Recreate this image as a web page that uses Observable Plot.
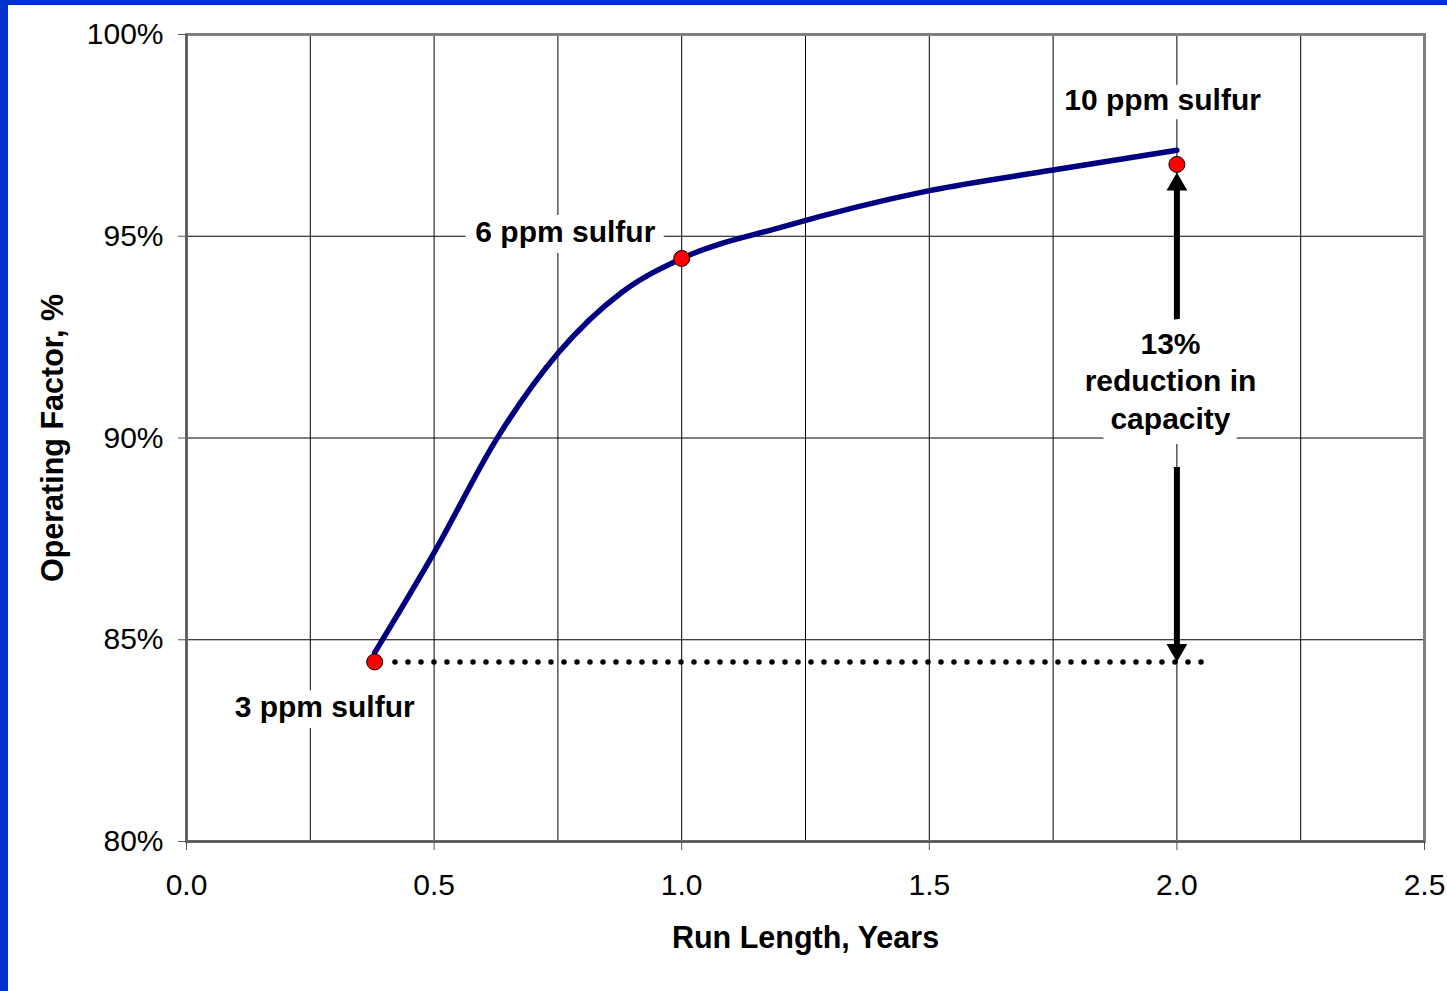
<!DOCTYPE html>
<html>
<head>
<meta charset="utf-8">
<script src="https://cdn.jsdelivr.net/npm/d3@7"></script>
<script src="https://cdn.jsdelivr.net/npm/@observablehq/plot@0.6"></script>
<style>
  html, body { margin: 0; padding: 0; background: #ffffff; }
  #wrap { position: relative; width: 1447px; height: 991px; overflow: hidden; }
  #chart { position: absolute; left: 0; top: 0; }
  .bar-left { position: absolute; left: 0; top: 0; width: 8px; height: 991px; background: #0033cc; }
  .bar-top { position: absolute; left: 0; top: 0; width: 1447px; height: 5px; background: #0033cc; }
</style>
</head>
<body>
<div id="wrap">
  <div id="chart"></div>
  <div class="bar-left"></div>
  <div class="bar-top"></div>
</div>
<script>
// Smoothed operating-factor curve (run length in years, operating factor in %)
const curveX = [0.38, 0.50, 0.628, 0.75, 0.88, 1.00, 1.20, 1.50, 1.75, 2.00];
const curveY = [84.68, 87.16, 90.01, 92.10, 93.62, 94.45, 95.22, 96.13, 96.64, 97.13];

// Red markers (sulfur cases)
const markerX = [0.38, 1.00, 2.00];
const markerY = [84.45, 94.45, 96.78];

// Labels
const labelText = ["3 ppm sulfur", "6 ppm sulfur", "10 ppm sulfur"];
const labelX = [0.279, 0.765, 1.971];
const labelY = [83.32, 95.09, 98.36];

// Dotted reference line
const refLevel = 84.45;
const refStart = 0.422;
const refEnd = 2.05;

// Arrow (13% reduction)
const arrowX = 2.0;
const shaftFrom = [92.86, 89.27];
const shaftTo = [96.2, 84.85];
const headTip = [96.58, 84.45];
const headDir = ["up", "down"];
const arrowText = "13%\nreduction in\ncapacity";
const arrowTextX = 1.987;
const arrowTextY = 91.45;

// Axes
const xTicks = [0, 0.5, 1.0, 1.5, 2.0, 2.5];
const xGrid = [0.25, 0.5, 0.75, 1.0, 1.25, 1.5, 1.75, 2.0, 2.25];
const yTicks = [80, 85, 90, 95, 100];
const yGrid = [85, 90, 95];
const xTitle = "Run Length, Years";
const yTitle = "Operating Factor, %";

const curve = curveX.map((x, i) => ({x, y: curveY[i]}));
const markers = markerX.map((x, i) => ({x, y: markerY[i]}));
const labels = labelText.map((t, i) => ({t, x: labelX[i], y: labelY[i]}));
const shafts = shaftFrom.map((y1, i) => ({x: arrowX, y1, y2: shaftTo[i]}));
const heads = headTip.map((y, i) => ({x: arrowX, y, dir: headDir[i]}));

const FONT = "'Liberation Sans', Arial, Helvetica, sans-serif";

const plot = Plot.plot({
  width: 1447,
  height: 991,
  marginLeft: 186,
  marginRight: 23,
  marginTop: 34,
  marginBottom: 150,
  style: {fontFamily: FONT, fontSize: "30px", background: "transparent", color: "#000"},
  x: {domain: [0, 2.5]},
  y: {domain: [80, 100]},
  marks: [
    Plot.ruleX(xGrid, {stroke: "#000", strokeWidth: 1}),
    Plot.ruleY(yGrid, {stroke: "#000", strokeWidth: 1}),
    Plot.frame({stroke: "#808080", strokeWidth: 3}),
    Plot.ruleX([0], {stroke: "#555", strokeWidth: 2}),
    Plot.ruleY([80], {stroke: "#555", strokeWidth: 2}),
    Plot.axisX({ticks: xTicks, tickFormat: d3.format(".1f"), tickSize: 9, tickPadding: 23, label: null, stroke: "#555", fill: "#000", fontSize: 30}),
    Plot.axisY({ticks: yTicks, tickFormat: d => d + "%", tickSize: 8, tickPadding: 15, label: null, stroke: "#555", fill: "#000", fontSize: 30}),
    Plot.ruleY([{y: refLevel, x1: refStart, x2: refEnd}], {y: "y", x1: "x1", x2: "x2", stroke: "#000", strokeWidth: 5.5, strokeDasharray: "0,13", strokeLinecap: "round"}),
    Plot.line(curve, {x: "x", y: "y", stroke: "#000080", strokeWidth: 5.5, curve: "monotone-x"}),
    Plot.ruleX(shafts, {x: "x", y1: "y1", y2: "y2", stroke: "#000", strokeWidth: 6}),
    Plot.dot(heads.filter(d => d.dir === "up"), {x: "x", y: "y", symbol: "triangle", r: 7.7, fill: "#000", dy: 12}),
    Plot.dot(heads.filter(d => d.dir === "down"), {x: "x", y: "y", symbol: "triangle", r: 7.7, fill: "#000", dy: -12, rotate: 180}),
    Plot.dot(markers, {x: "x", y: "y", r: 8, fill: "#ff0000", stroke: "#000", strokeWidth: 1}),
    Plot.text(labels, {x: "x", y: "y", text: "t", fontSize: 30, fontWeight: "bold", fill: "#000", stroke: "#fff", strokeWidth: 22, strokeLinejoin: "round", textAnchor: "middle"}),
    Plot.text([arrowText], {x: arrowTextX, y: arrowTextY, fontSize: 30, fontWeight: "bold", fill: "#000", stroke: "#fff", strokeWidth: 30, strokeLinejoin: "round", textAnchor: "middle", lineHeight: 1.25}),
    Plot.text([xTitle], {frameAnchor: "bottom", dy: 106, fontSize: 30.5, fontWeight: "bold", fill: "#000"}),
    Plot.text([yTitle], {frameAnchor: "left", dx: -133, rotate: -90, textAnchor: "middle", fontSize: 30.5, fontWeight: "bold", fill: "#000"})
  ]
});
document.getElementById("chart").appendChild(plot);
</script>
</body>
</html>
